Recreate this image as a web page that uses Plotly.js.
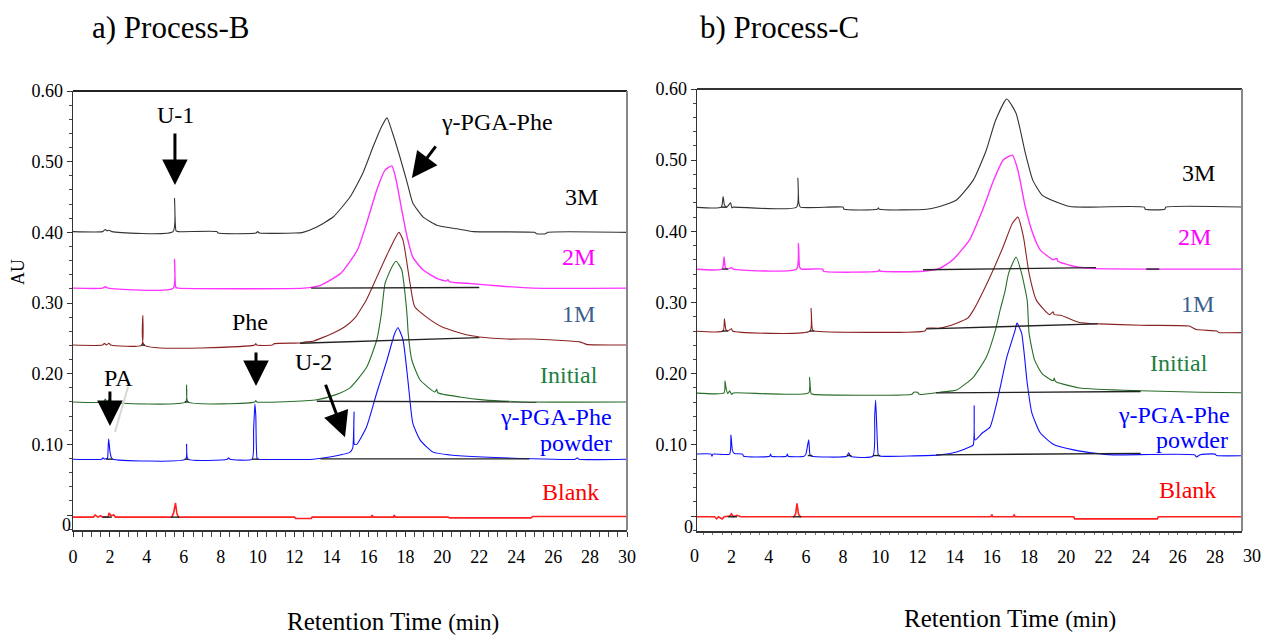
<!DOCTYPE html>
<html>
<head>
<meta charset="utf-8">
<script src="https://cdn.plot.ly/plotly-3.0.1.min.js"></script>
<style>html,body{margin:0;padding:0;background:#fff;}#chart{width:1266px;height:636px;}</style>
</head>
<body>
<div id="chart"></div>
<script>
// ---------------- Panel a) Process-B ----------------
const B_3M_x = [0,1.6,1.75,1.85,1.95,2.1,5.42,5.5,5.58,5.7,7.8,7.85,9.9,10.0,10.1,12.0,12.45,13.2,14.1,15.0,15.7,16.25,16.7,17.0,17.3,17.7,18.1,18.4,18.95,19.7,20.8,21.7,25.0,25.1,25.6,25.7,30];
const B_3M_y = [0.401,0.401,0.404,0.402,0.403,0.401,0.401,0.448,0.402,0.401,0.401,0.399,0.399,0.401,0.399,0.399,0.4,0.4075,0.422,0.45,0.484,0.521,0.549,0.562,0.541,0.507,0.47,0.4415,0.422,0.41,0.405,0.401,0.4,0.398,0.398,0.4,0.4];

const B_2M_x = [0,1.6,1.75,1.9,5.43,5.5,5.57,5.7,12.5,13.4,14.5,15.4,15.9,16.45,16.9,17.27,17.5,17.8,18.1,18.4,18.95,19.7,20.2,20.3,20.4,21.3,23.1,24.9,30];
const B_2M_y = [0.321,0.321,0.323,0.321,0.321,0.362,0.322,0.321,0.321,0.325,0.342,0.375,0.413,0.46,0.488,0.494,0.474,0.432,0.393,0.365,0.347,0.335,0.331,0.333,0.330,0.328,0.324,0.321,0.321];

const B_1M_x = [0,1.6,1.7,1.8,1.95,2.05,3.72,3.78,3.85,9.85,9.9,9.95,10.8,10.9,12.3,12.6,13.0,14.1,14.7,15.27,15.9,16.46,17.0,17.65,17.87,18.25,18.5,19.2,20.0,21.3,22.0,23.5,24.9,27.45,27.8,30];
const B_1M_y = [0.2405,0.2405,0.243,0.2405,0.243,0.2405,0.2405,0.282,0.2405,0.2405,0.2425,0.2405,0.2405,0.2425,0.2435,0.245,0.246,0.2575,0.266,0.279,0.305,0.337,0.368,0.40,0.389,0.328,0.295,0.279,0.266,0.255,0.252,0.249,0.249,0.245,0.2415,0.2405];

const B_In_x = [0,1.65,1.75,1.85,1.95,2.05,6.1,6.15,6.22,9.85,9.9,9.95,13.2,14.2,15.0,15.9,16.45,16.7,16.9,17.27,17.5,17.8,18.0,18.1,18.15,18.35,18.8,19.6,19.7,19.75,20.95,22.2,24.9,30];
const B_In_y = [0.16,0.16,0.164,0.16,0.163,0.16,0.16,0.184,0.16,0.16,0.162,0.16,0.163,0.17,0.18,0.209,0.248,0.285,0.328,0.351,0.359,0.347,0.308,0.279,0.2575,0.219,0.191,0.174,0.178,0.173,0.167,0.163,0.16,0.16];

const B_Pw_x = [0,1.55,1.62,1.7,1.8,1.85,1.88,1.93,2.0,2.08,2.15,6.1,6.15,6.22,8.35,8.42,8.5,9.7,9.78,9.85,9.9,9.97,10.05,13.0,13.9,15.0,15.15,15.22,15.24,15.37,15.9,16.45,17.0,17.43,17.6,17.87,18.15,18.4,18.8,19.5,20.4,22.2,27.2,27.3,27.4,30];
const B_Pw_y = [0.079,0.079,0.081,0.079,0.08,0.079,0.082,0.108,0.09,0.081,0.079,0.079,0.1,0.079,0.079,0.081,0.079,0.079,0.12,0.157,0.14,0.08,0.079,0.079,0.082,0.089,0.095,0.146,0.1,0.1,0.125,0.173,0.219,0.2575,0.265,0.248,0.187,0.13,0.106,0.089,0.085,0.082,0.079,0.081,0.079,0.079];

const B_Bk_x = [0,1.1,1.2,1.35,1.5,1.6,1.9,1.95,2.05,2.2,2.3,5.35,5.45,5.55,5.62,5.7,12.0,12.05,12.9,12.95,16.15,16.2,16.25,17.35,17.4,17.45,20.3,20.4,24.8,24.9,30];
const B_Bk_y = [-0.003,-0.003,0.0,-0.003,-0.001,-0.003,-0.003,0.003,-0.001,0.0,-0.003,-0.003,0.003,0.017,0.003,-0.003,-0.003,-0.005,-0.005,-0.003,-0.003,0.0,-0.003,-0.003,0.0,-0.003,-0.003,-0.004,-0.004,-0.002,-0.002];

// integration baselines (black), segments separated by null
const B_BL_x = [12.9,22.0,null,12.3,22.0,null,13.2,25.1,null,13.4,24.7,null,1.6,2.1,null,5.3,5.75,null,1.8,2.15,null,6.05,6.25,null,9.7,10.05,null,6.05,6.25,null,3.7,3.9];
const B_BL_y = [0.321,0.322,null,0.243,0.251,null,0.161,0.160,null,0.0795,0.0795,null,-0.003,-0.003,null,-0.003,-0.003,null,0.079,0.079,null,0.079,0.079,null,0.079,0.079,null,0.16,0.16,null,0.2405,0.2405];

// ---------------- Panel b) Process-C ----------------
const C_3M_x = [0,1.45,1.55,1.62,1.75,1.95,2.02,2.1,5.5,5.57,5.62,5.7,8.0,8.05,9.85,9.9,9.95,12.5,13.2,14.1,15.0,15.7,16.2,16.8,17.3,17.8,18.2,18.7,19.5,20.2,21.0,24.2,24.25,25.3,25.35,30];
const C_3M_y = [0.434,0.434,0.449,0.437,0.434,0.44,0.433,0.434,0.434,0.475,0.44,0.434,0.434,0.431,0.431,0.433,0.431,0.431,0.435,0.444,0.472,0.514,0.556,0.586,0.566,0.51,0.472,0.451,0.441,0.435,0.434,0.434,0.431,0.431,0.434,0.434];

const C_2M_x = [0,1.5,1.6,1.67,1.8,2.0,2.1,5.5,5.6,5.66,5.75,6.9,6.95,9.9,9.95,10.0,12.3,13.2,13.9,14.8,15.5,16.1,16.6,17.1,17.4,17.8,18.2,18.6,19.3,19.5,19.55,20.4,21.3,30];
const C_2M_y = [0.347,0.347,0.364,0.349,0.347,0.349,0.347,0.347,0.383,0.35,0.347,0.347,0.344,0.344,0.346,0.344,0.344,0.348,0.36,0.388,0.43,0.472,0.5,0.507,0.486,0.434,0.397,0.374,0.36,0.362,0.358,0.351,0.348,0.347];

const C_1M_x = [0,1.55,1.62,1.7,1.8,2.0,2.05,6.22,6.28,6.35,6.45,12.4,12.5,13.2,14.1,14.7,15.0,15.9,16.6,17.1,17.4,17.7,18.0,18.4,19.1,19.3,19.35,19.7,20.7,21.8,24.0,26.6,27.0,28.1,28.2,30];
const C_1M_y = [0.26,0.26,0.277,0.262,0.26,0.263,0.26,0.26,0.292,0.262,0.26,0.26,0.264,0.264,0.271,0.278,0.289,0.336,0.378,0.411,0.42,0.392,0.341,0.303,0.283,0.287,0.283,0.282,0.272,0.27,0.268,0.267,0.262,0.26,0.258,0.258];

const C_In_x = [0,1.6,1.65,1.72,1.8,1.9,2.0,2.1,6.15,6.2,6.28,6.4,11.7,11.8,12.0,12.1,13.2,14.1,15.0,15.7,16.2,16.45,16.7,16.9,17.3,17.6,17.9,18.0,18.3,18.7,19.3,19.35,19.4,19.5,20.7,24.0,27.2,30];
const C_In_y = [0.173,0.173,0.19,0.178,0.172,0.176,0.171,0.173,0.173,0.195,0.172,0.171,0.171,0.174,0.174,0.171,0.174,0.177,0.195,0.223,0.262,0.29,0.315,0.341,0.364,0.341,0.303,0.257,0.219,0.2,0.19,0.194,0.19,0.188,0.18,0.176,0.174,0.173];

const C_Pw_x = [0,0.9,0.95,1.0,1.9,1.97,2.05,2.15,2.6,2.65,4.05,4.1,4.15,4.95,5.0,5.05,5.9,6.0,6.15,6.22,6.3,8.2,8.3,8.4,9.6,9.7,9.75,9.82,9.9,10.0,13.2,14.1,14.8,15.0,15.05,15.1,15.5,15.9,16.3,16.45,16.8,17.25,17.35,17.6,17.9,18.15,18.6,19.3,20.4,21.6,22.5,26.9,27.0,27.2,27.5,28.0,28.1,30];
const C_Pw_y = [0.087,0.087,0.084,0.087,0.087,0.114,0.092,0.088,0.087,0.084,0.084,0.087,0.084,0.084,0.087,0.084,0.084,0.087,0.107,0.086,0.084,0.084,0.089,0.084,0.084,0.14,0.163,0.12,0.085,0.084,0.086,0.09,0.097,0.1,0.155,0.107,0.117,0.125,0.163,0.181,0.223,0.261,0.271,0.257,0.187,0.145,0.117,0.101,0.093,0.088,0.086,0.086,0.083,0.086,0.087,0.087,0.085,0.085];

const C_Bk_x = [0,1.1,1.2,1.3,1.5,1.6,1.9,2.0,2.1,2.3,2.5,5.35,5.45,5.52,5.6,5.7,15.95,16.0,16.05,17.15,17.2,17.25,20.4,20.45,24.9,24.95,30];
const C_Bk_y = [-0.001,-0.001,-0.004,-0.001,-0.004,-0.001,0.0,0.003,-0.001,0.001,-0.001,-0.001,0.003,0.018,0.003,-0.001,-0.001,0.002,-0.001,-0.001,0.002,-0.001,-0.001,-0.004,-0.004,-0.001,-0.001];

const C_BL_x = [12.3,21.6,null,24.3,25.0,null,12.5,21.7,null,13.0,24.0,null,13.0,24.0,null,1.45,1.75,null,1.5,1.8,null,1.5,1.8,null,6.2,6.45,null,6.1,6.35,null,8.2,8.45,null,9.6,10.0,null,1.8,2.3,null,5.3,5.75];
const C_BL_y = [0.346,0.349,null,0.347,0.347,null,0.263,0.270,null,0.173,0.175,null,0.086,0.088,null,0.434,0.434,null,0.347,0.347,null,0.26,0.26,null,0.26,0.26,null,0.085,0.085,null,0.085,0.085,null,0.085,0.085,null,-0.001,-0.001,null,-0.001,-0.001];

// tick labels
const X_TICKS_B = [0,2,4,6,8,10,12,14,16,18,20,22,24,26,28,30];
const X_TICKS_C = [2,4,6,8,10,12,14,16,18,20,22,24,26,28];
const Y_TICKS = [0,0.1,0.2,0.3,0.4,0.5,0.6];
const Y_TICKTEXT = ['', '0.10', '0.20', '0.30', '0.40', '0.50', '0.60'];

// curve labels
const SERIES_LABELS = ['3M','2M','1M','Initial','γ-PGA-Phe','powder','Blank'];
const SERIES_LABEL_COLORS = ['#000000','#FF00FF','#3B5F8E','#1E8040','#0000FF','#0000FF','#FF0000'];

const FONT = 'Liberation Serif';
const W = 1266, H = 636;
const px = v => v / W;
const py = v => (H - v) / H;

function tr(x, y, color, xa, ya, width, smooth) {
  return {x: x, y: y, type: 'scatter', mode: 'lines', xaxis: xa, yaxis: ya,
    line: smooth ? {color: color, width: width || 1.1, shape: 'spline', smoothing: 0.5} : {color: color, width: width || 1.1},
    hoverinfo: 'skip', showlegend: false};
}

const data = [
  tr(B_Bk_x, B_Bk_y, '#FF2020', 'x', 'y', 1.6),
  tr(B_Pw_x, B_Pw_y, '#1010FF', 'x', 'y', 1.1, true),
  tr(B_In_x, B_In_y, '#2A6E2A', 'x', 'y', 1.1, true),
  tr(B_1M_x, B_1M_y, '#8B2323', 'x', 'y', 1.1, true),
  tr(B_2M_x, B_2M_y, '#FF33FF', 'x', 'y', 1.4, true),
  tr(B_3M_x, B_3M_y, '#333333', 'x', 'y', 1.1, true),
  tr(B_BL_x, B_BL_y, '#222222', 'x', 'y', 1.4),
  tr(C_Bk_x, C_Bk_y, '#FF2020', 'x2', 'y2', 1.6),
  tr(C_Pw_x, C_Pw_y, '#1010FF', 'x2', 'y2', 1.1, true),
  tr(C_In_x, C_In_y, '#2A6E2A', 'x2', 'y2', 1.1, true),
  tr(C_1M_x, C_1M_y, '#8B2323', 'x2', 'y2', 1.1, true),
  tr(C_2M_x, C_2M_y, '#FF33FF', 'x2', 'y2', 1.4, true),
  tr(C_3M_x, C_3M_y, '#333333', 'x2', 'y2', 1.1, true),
  tr(C_BL_x, C_BL_y, '#222222', 'x2', 'y2', 1.4)
];

const tf = () => ({family: FONT, size: 18, color: '#000'});

const layout = {
  width: W, height: H, autosize: false,
  margin: {l: 0, r: 0, t: 0, b: 0},
  paper_bgcolor: '#fff', plot_bgcolor: '#fff',
  font: {family: FONT, size: 18, color: '#000'},
  showlegend: false,
  xaxis: {domain: [px(73), px(627)], range: [0, 30], anchor: 'y',
    tickmode: 'array', tickvals: X_TICKS_B, ticks: 'outside', ticklen: 5, tickcolor: '#333', tickwidth: 1,
    minor: {tickmode: 'linear', tick0: 0, dtick: 0.5, ticks: 'outside', ticklen: 5, tickcolor: '#444', tickwidth: 1},
    showline: true, linecolor: '#333', linewidth: 1.5, showgrid: false, zeroline: false,
    tickfont: tf(), ticklabelstandoff: 5, fixedrange: true},
  yaxis: {domain: [py(530), py(91)], range: [-0.0212, 0.6], anchor: 'x',
    tickmode: 'array', tickvals: Y_TICKS, ticktext: Y_TICKTEXT, ticks: 'outside', ticklen: 5, tickcolor: '#333',
    minor: {tickmode: 'linear', tick0: 0, dtick: 0.02, ticks: 'outside', ticklen: 3, tickcolor: '#444'},
    showline: true, linecolor: '#333', linewidth: 1.5, showgrid: false, zeroline: false,
    tickfont: tf(), ticklabelstandoff: 0, fixedrange: true},
  xaxis2: {domain: [px(697), px(1242)], range: [0.145, 29.45], anchor: 'y2',
    tickmode: 'array', tickvals: X_TICKS_C, ticks: 'outside', ticklen: 2, tickcolor: '#666', tickwidth: 1,
    minor: {tickmode: 'linear', tick0: 0, dtick: 0.5, ticks: 'outside', ticklen: 2, tickcolor: '#777', tickwidth: 1},
    showline: true, linecolor: '#333', linewidth: 1.5, showgrid: false, zeroline: false,
    tickfont: tf(), ticklabelstandoff: 7, fixedrange: true},
  yaxis2: {domain: [py(531), py(89)], range: [-0.021, 0.6], anchor: 'x2',
    tickmode: 'array', tickvals: Y_TICKS, ticktext: Y_TICKTEXT, ticks: 'outside', ticklen: 5, tickcolor: '#333',
    minor: {tickmode: 'linear', tick0: 0, dtick: 0.02, ticks: 'outside', ticklen: 3, tickcolor: '#444'},
    showline: true, linecolor: '#333', linewidth: 1.5, showgrid: false, zeroline: false,
    tickfont: tf(), ticklabelstandoff: 0, fixedrange: true},
  shapes: [
    {type: 'line', xref: 'paper', yref: 'paper', x0: px(73), x1: px(627), y0: py(91), y1: py(91), line: {color: '#222', width: 2}},
    {type: 'line', xref: 'paper', yref: 'paper', x0: px(627), x1: px(627), y0: py(91), y1: py(530), line: {color: '#888', width: 2}},
    {type: 'line', xref: 'paper', yref: 'paper', x0: px(697), x1: px(1242), y0: py(89), y1: py(89), line: {color: '#333', width: 2}},
    {type: 'line', xref: 'paper', yref: 'paper', x0: px(1242), x1: px(1242), y0: py(89), y1: py(531), line: {color: '#888', width: 2}},
    {type: 'line', xref: 'paper', yref: 'paper', x0: px(128), x1: px(115), y0: py(387), y1: py(432), line: {color: '#d8d8d0', width: 2}}
  ],
  annotations: []
};

const A = layout.annotations;
function txt(t, x, y, size, color, xanchor, extra) {
  A.push(Object.assign({text: t, xref: 'paper', yref: 'paper', x: px(x), y: py(y), xanchor: xanchor || 'center', yanchor: 'middle',
    showarrow: false, font: {family: FONT, size: size, color: color || '#000'}}, extra || {}));
}
function arrow(xa, ya, x, y, ax, ay) {
  A.push({text: '', xref: xa, yref: ya, x: x, y: y, ax: ax, ay: ay, axref: 'pixel', ayref: 'pixel',
    showarrow: true, arrowhead: 2, arrowsize: 1.7, arrowwidth: 3, arrowcolor: '#000', standoff: 0, startstandoff: 0});
}

txt('a) Process-B', 90, 27, 31, '#000', 'left');
txt('b) Process-C', 698, 27, 31, '#000', 'left');
txt('AU', 18, 272, 18, '#000', 'center', {textangle: -90});
txt('Retention Time <span style="font-size:23px">(min)</span>', 393, 621, 25, '#000');
txt('Retention Time <span style="font-size:23px">(min)</span>', 1010, 618, 25, '#000');
txt('0', 66, 525, 18, '#000');
txt('0', 688, 527, 18, '#000');
txt('0', 694, 556, 18, '#000');
txt('30', 1252, 556, 18, '#000');

const LBL_B = [[600,197],[597,257],[597,314],[600,375],[614,417],[614,443],[601,492]];
const LBL_C = [[1217,173],[1213,237],[1216,304],[1210,363],[1232,415],[1230,440],[1218,490]];
SERIES_LABELS.forEach((s, i) => {
  txt(s, LBL_B[i][0], LBL_B[i][1], 24, SERIES_LABEL_COLORS[i], 'right');
  txt(s, LBL_C[i][0], LBL_C[i][1], 24, SERIES_LABEL_COLORS[i], 'right');
});

txt('U-1', 175, 115, 24);
arrow('x', 'y', 5.52, 0.467, 0, -53);
txt('γ-PGA-Phe', 497, 122, 24);
arrow('x', 'y', 18.35, 0.477, 25, -33);
txt('Phe', 250, 322, 24);
arrow('x', 'y', 9.91, 0.1825, 0, -35);
txt('PA', 118, 378, 24);
arrow('x', 'y', 2.0, 0.126, 0, -36);
txt('U-2', 313, 362, 24);
arrow('x', 'y', 14.73, 0.110, -20, -54);

Plotly.newPlot('chart', data, layout, {staticPlot: true, displayModeBar: false});
</script>
</body>
</html>
